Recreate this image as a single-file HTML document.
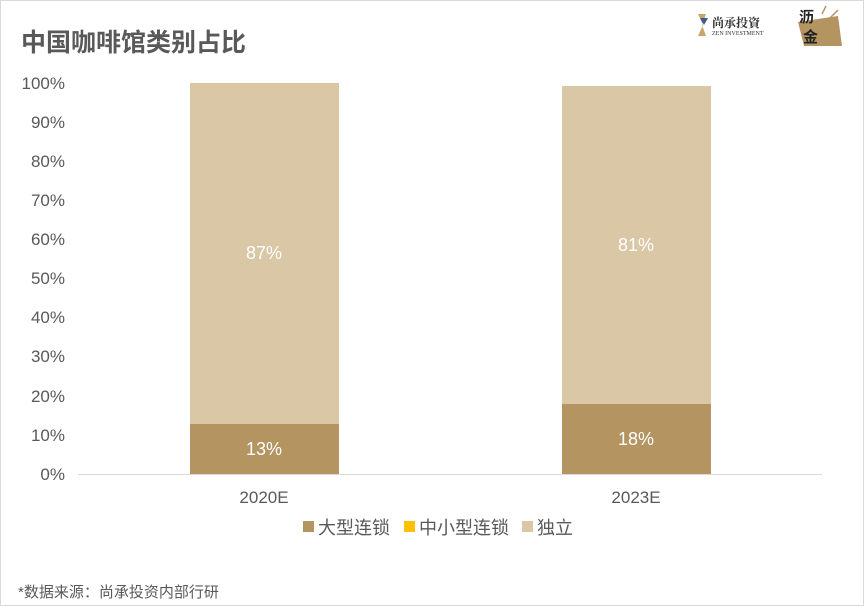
<!DOCTYPE html>
<html><head><meta charset="utf-8"><style>
body{margin:0;background:#fff;}
.f{position:absolute;left:0;top:0;width:862px;height:604px;border:1px solid #d9d9d9;background:#fff;overflow:hidden;font-family:"Liberation Sans","Noto Sans CJK SC",sans-serif;}
.t{position:absolute;font-size:17px;color:#595959;}
</style></head><body><div class="f">
<div style="position:absolute;left:20px;top:22px;font-size:25px;font-weight:bold;color:#595959;">中国咖啡馆类别占比</div>
<svg width="864" height="606" style="position:absolute;left:-1px;top:-1px">
<g font-family="Liberation Sans, Noto Sans CJK SC, sans-serif" font-size="17" fill="#595959" text-anchor="end">
<text x="65" y="480">0%</text><text x="65" y="441">10%</text><text x="65" y="402">20%</text><text x="65" y="362">30%</text><text x="65" y="323">40%</text><text x="65" y="284">50%</text><text x="65" y="245">60%</text><text x="65" y="206">70%</text><text x="65" y="167">80%</text><text x="65" y="128">90%</text><text x="65" y="89">100%</text>
</g>
<rect x="190" y="83" width="149" height="341" fill="#d9c7a5"/>
<rect x="190" y="424" width="149" height="50" fill="#b49461"/>
<rect x="562" y="86" width="149" height="318" fill="#d9c7a5"/>
<rect x="562" y="404" width="149" height="70" fill="#b49461"/>
<line x1="78" y1="474.5" x2="822" y2="474.5" stroke="#d9d9d9" stroke-width="1"/>
<g font-family="Liberation Sans, Noto Sans CJK SC, sans-serif" font-size="18" fill="#fff" text-anchor="middle">
<text x="264" y="259">87%</text><text x="264" y="455">13%</text>
<text x="636" y="251">81%</text><text x="636" y="445">18%</text>
</g>
<g font-family="Liberation Sans, Noto Sans CJK SC, sans-serif" font-size="17" fill="#595959" text-anchor="middle">
<text x="264" y="503">2020E</text><text x="636" y="503">2023E</text>
</g>
<rect x="303" y="521" width="11" height="11" fill="#b49461"/>
<rect x="404" y="521" width="11" height="11" fill="#ffc000"/>
<rect x="522" y="521" width="11" height="11" fill="#d9c7a5"/>
<g font-family="Liberation Sans, Noto Sans CJK SC, sans-serif" font-size="18" fill="#595959">
<text x="318" y="534">大型连锁</text><text x="419" y="534">中小型连锁</text><text x="537" y="534">独立</text>
</g>
<text x="18" y="597" font-family="Liberation Sans, Noto Sans CJK SC, sans-serif" font-size="15" fill="#595959">*数据来源：尚承投资内部行研</text>
<polygon points="698,14 706,14 702,25 706,36 698,36 703,25" fill="#c9a56a"/>
<polygon points="700,18 708,18 704,25" fill="#3a5d8f"/>
<text x="712" y="27" font-family="Noto Serif CJK SC, serif" font-size="12" fill="#333" font-weight="bold">尚承投資</text>
<text x="712" y="35" font-family="Liberation Serif, serif" font-size="6" fill="#333">ZEN INVESTMENT</text>
<polygon points="798,22 838,16 842,46 804,46" fill="#b49461"/>
<text x="799" y="22" font-family="Noto Sans CJK SC, sans-serif" font-size="15" font-weight="bold" fill="#222">沥</text>
<text x="803" y="42" font-family="Noto Sans CJK SC, sans-serif" font-size="15" font-weight="bold" fill="#222">金</text>
<line x1="822" y1="14" x2="826" y2="6" stroke="#b49461" stroke-width="1.5"/>
<line x1="830" y1="18" x2="838" y2="10" stroke="#b49461" stroke-width="1.5"/>
</svg>
</div></body></html>
